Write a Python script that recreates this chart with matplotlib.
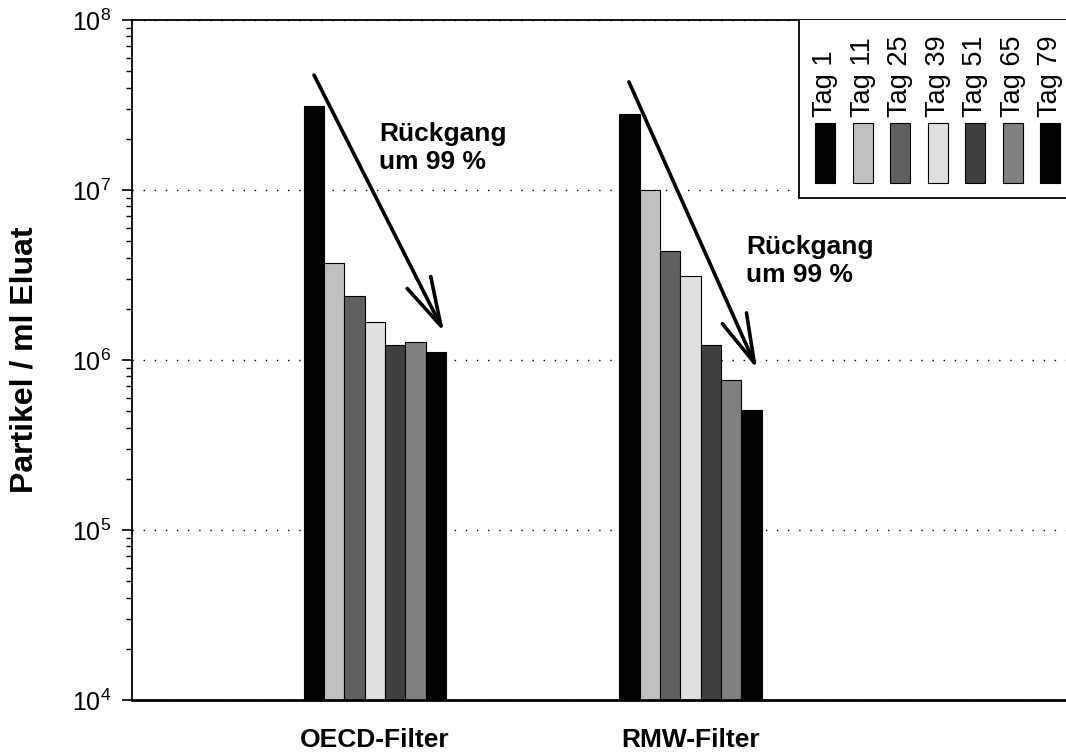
import matplotlib
matplotlib.use('Agg')
import matplotlib.pyplot as plt
import numpy as np
from matplotlib.patches import Rectangle
from matplotlib.ticker import LogLocator, NullFormatter

plt.rcParams['font.family'] = ['Liberation Sans', 'DejaVu Sans']
plt.rcParams['mathtext.fontset'] = 'custom'
plt.rcParams['mathtext.rm'] = 'Liberation Sans'
plt.rcParams['mathtext.it'] = 'Liberation Sans:italic'
plt.rcParams['mathtext.bf'] = 'Liberation Sans:bold'

# ---- data ----
categories = ['OECD-Filter', 'RMW-Filter']
days = ['Tag 1', 'Tag 11', 'Tag 25', 'Tag 39', 'Tag 51', 'Tag 65', 'Tag 79']
oecd = [3.1e7, 3.7e6, 2.38e6, 1.68e6, 1.22e6, 1.27e6, 1.12e6]
rmw = [2.8e7, 1.0e7, 4.35e6, 3.1e6, 1.22e6, 7.6e5, 5.1e5]
colors = ['#000000', '#c0c0c0', '#606060', '#e0e0e0', '#404040', '#808080', '#000000']
ylabel = 'Partikel / ml Eluat'
note = 'Rückgang\num 99 %'

fig = plt.figure(figsize=(10.66, 7.54), dpi=100)
ax = fig.add_axes([0.1238, 0.0716, 0.8762, 0.9019])
ax.set_yscale('log')

x = np.arange(len(categories))
w = 0.0645
series = [oecd, rmw]
for i, d in enumerate(days):
    vals = [s[i] for s in series]
    ax.bar(x + (i - 3) * w, vals, width=w, bottom=1e3, color=colors[i],
           edgecolor='black', linewidth=0.8, zorder=2)

ax.set_ylim(1e4, 1e8)
ax.set_xlim(-0.770, 2.190)

ax.yaxis.set_major_locator(LogLocator(base=10, numticks=10))
ax.yaxis.set_minor_locator(LogLocator(base=10, subs=np.arange(2, 10), numticks=10))
ax.yaxis.set_minor_formatter(NullFormatter())
ax.tick_params(axis='y', which='major', length=7, width=1.2, labelsize=18, pad=8, direction='out')
ax.tick_params(axis='y', which='minor', length=4, width=1.0, direction='out')
ax.set_xticks(x)
ax.set_xticklabels(categories, fontweight='bold')
ax.tick_params(axis='x', length=0, pad=20, labelsize=19)

ax.yaxis.grid(True, which='major', linestyle=(0, (1, 7)), color='black', linewidth=1.0)
ax.set_axisbelow(True)

ax.spines['right'].set_visible(False)
ax.spines['bottom'].set_linewidth(2.0)
ax.spines['left'].set_linewidth(1.3)
ax.spines['top'].set_linewidth(1.3)

ax.set_ylabel(ylabel, fontsize=23, fontweight='bold')
ax.yaxis.set_label_coords(-0.0986, 0.5)

# arrows and annotations
arrowprops = dict(arrowstyle='->,head_length=3.5,head_width=0.95', lw=2.6, color='black',
                  shrinkA=0, shrinkB=0, mutation_scale=10)
ax.annotate('', xy=(0.219, 1.46e6), xytext=(-0.193, 4.74e7), arrowprops=arrowprops, zorder=5)
ax.annotate('', xy=(1.211, 8.85e5), xytext=(0.805, 4.32e7), arrowprops=arrowprops, zorder=5)
ax.text(0.013, 2.51e7, note, fontsize=19, fontweight='bold', va='top', ha='left')
ax.text(1.176, 5.43e6, note, fontsize=19, fontweight='bold', va='top', ha='left')

# legend (manual, rotated labels)
ax.add_patch(Rectangle((0.714, 0.738), 0.4, 0.4, transform=ax.transAxes, facecolor='white',
                       edgecolor='black', lw=1.3, zorder=3, clip_on=True))
x0 = 0.7313
dx = 0.04015
pw = 0.0214
for i, d in enumerate(days):
    xi = x0 + i * dx
    ax.add_patch(Rectangle((xi, 0.7603), pw, 0.0882, transform=ax.transAxes,
                           facecolor=colors[i], edgecolor='black', lw=0.8, zorder=4))
    ax.text(xi + pw / 2, 0.857, d, transform=ax.transAxes, rotation=90, ha='center',
            va='bottom', fontsize=19.5, zorder=4)

fig.savefig('out.png', dpi=100)
